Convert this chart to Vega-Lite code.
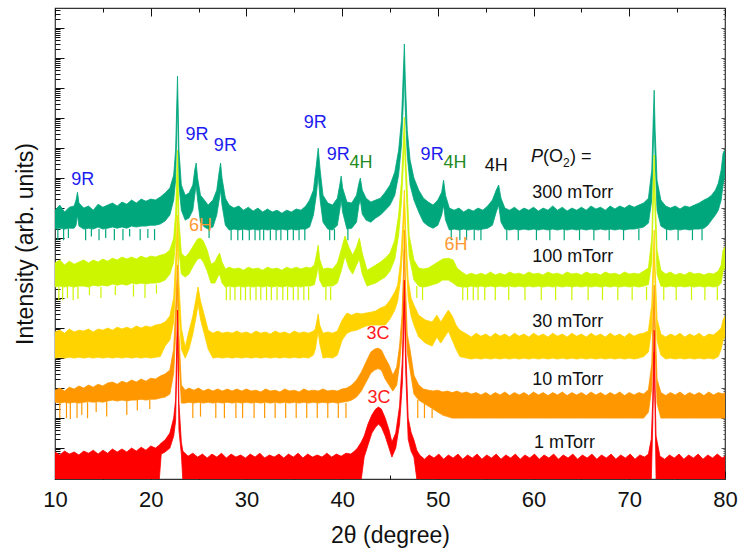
{
"$schema":"https://vega.github.io/schema/vega-lite/v6.json",
"width":670,"height":471,
"autosize":{"type":"none"},
"padding":{"left":55,"top":8,"right":14,"bottom":77},
"background":"white",
"config":{"view":{"stroke":"#333","strokeWidth":1.2},"axis":{"grid":false,"domain":false,"tickColor":"#111","tickWidth":1,"labelFont":"Liberation Sans","titleFont":"Liberation Sans","labelColor":"#111","titleColor":"#111","titleFontWeight":"normal"},"text":{"font":"Liberation Sans"}},
"datasets":{
"s300":[{"x":10,"t":8.93,"b":8.3},{"x":10.5,"t":9.1,"b":8.33},{"x":11,"t":8.87,"b":8.3},{"x":11.5,"t":9.03,"b":8.33},{"x":12,"t":9.07,"b":8.33},{"x":12.2,"t":9.27,"b":8.43},{"x":12.35,"t":9.53,"b":8.77},{"x":12.5,"t":9.17,"b":8.4},{"x":13,"t":9,"b":8.3},{"x":13.5,"t":9.07,"b":8.33},{"x":14,"t":8.93,"b":8.3},{"x":14.5,"t":9.13,"b":8.37},{"x":15,"t":9.03,"b":8.3},{"x":15.5,"t":9.1,"b":8.33},{"x":16,"t":9.17,"b":8.37},{"x":16.5,"t":9.07,"b":8.33},{"x":17,"t":9.2,"b":8.37},{"x":17.5,"t":9.13,"b":8.33},{"x":18,"t":9.27,"b":8.4},{"x":18.5,"t":9.17,"b":8.37},{"x":19,"t":9.3,"b":8.4},{"x":19.5,"t":9.23,"b":8.4},{"x":20,"t":9.3,"b":8.43},{"x":20.5,"t":9.27,"b":8.43},{"x":21,"t":9.37,"b":8.47},{"x":21.5,"t":9.5,"b":8.57},{"x":22,"t":9.67,"b":8.77},{"x":22.4,"t":10.1,"b":9.27},{"x":22.6,"t":10.93,"b":9.93},{"x":22.8,"t":13.4,"b":12.6},{"x":22.95,"t":10.93,"b":9.77},{"x":23.2,"t":9.77,"b":8.93},{"x":23.6,"t":9.43,"b":8.6},{"x":24,"t":9.5,"b":8.67},{"x":24.4,"t":9.77,"b":8.93},{"x":24.6,"t":10.27,"b":9.43},{"x":24.75,"t":10.5,"b":9.77},{"x":24.9,"t":10,"b":9.27},{"x":25.2,"t":9.43,"b":8.53},{"x":25.6,"t":9.27,"b":8.37},{"x":26,"t":9.1,"b":8.3},{"x":26.5,"t":9.27,"b":8.37},{"x":26.9,"t":9.6,"b":8.77},{"x":27.15,"t":10.2,"b":9.27},{"x":27.3,"t":10.5,"b":9.6},{"x":27.45,"t":10,"b":9.1},{"x":27.8,"t":9.33,"b":8.43},{"x":28.2,"t":9.1,"b":8.27},{"x":28.7,"t":9,"b":8.3},{"x":29.2,"t":9.07,"b":8.27},{"x":29.7,"t":8.93,"b":8.3},{"x":30.2,"t":9.03,"b":8.27},{"x":30.7,"t":8.9,"b":8.3},{"x":31.2,"t":9,"b":8.27},{"x":31.7,"t":8.87,"b":8.3},{"x":32.2,"t":8.97,"b":8.27},{"x":32.7,"t":8.87,"b":8.3},{"x":33.2,"t":8.93,"b":8.27},{"x":33.7,"t":8.83,"b":8.3},{"x":34.2,"t":8.93,"b":8.27},{"x":34.7,"t":8.87,"b":8.3},{"x":35.2,"t":8.97,"b":8.27},{"x":35.7,"t":8.93,"b":8.3},{"x":36.2,"t":9.07,"b":8.3},{"x":36.6,"t":9.27,"b":8.37},{"x":37,"t":9.6,"b":8.77},{"x":37.3,"t":10.43,"b":9.43},{"x":37.5,"t":11,"b":10.1},{"x":37.7,"t":10.27,"b":9.27},{"x":38,"t":9.43,"b":8.53},{"x":38.5,"t":9.17,"b":8.3},{"x":39,"t":9.1,"b":8.27},{"x":39.5,"t":9.33,"b":8.43},{"x":39.75,"t":9.77,"b":8.93},{"x":39.9,"t":10.07,"b":9.27},{"x":40.05,"t":9.67,"b":8.87},{"x":40.5,"t":9.2,"b":8.3},{"x":41,"t":9.17,"b":8.33},{"x":41.5,"t":9.43,"b":8.53},{"x":41.75,"t":9.83,"b":9.1},{"x":41.9,"t":10,"b":9.27},{"x":42.1,"t":9.6,"b":8.8},{"x":42.5,"t":9.33,"b":8.6},{"x":43,"t":9.2,"b":8.53},{"x":43.5,"t":9.27,"b":8.67},{"x":44,"t":9.33,"b":8.77},{"x":44.5,"t":9.53,"b":8.93},{"x":45,"t":9.77,"b":9.1},{"x":45.5,"t":10.2,"b":9.43},{"x":45.9,"t":10.93,"b":10.1},{"x":46.2,"t":11.93,"b":11.1},{"x":46.4,"t":13.6,"b":12.6},{"x":46.5,"t":14.47,"b":13.6},{"x":46.6,"t":13.27,"b":12.27},{"x":46.8,"t":11.6,"b":10.77},{"x":47.1,"t":10.6,"b":9.77},{"x":47.5,"t":10,"b":9.27},{"x":48,"t":9.6,"b":8.87},{"x":48.5,"t":9.33,"b":8.53},{"x":49,"t":9.2,"b":8.4},{"x":49.5,"t":9.1,"b":8.33},{"x":50,"t":9.27,"b":8.43},{"x":50.4,"t":9.53,"b":8.77},{"x":50.6,"t":9.93,"b":9.1},{"x":50.8,"t":9.43,"b":8.6},{"x":51.2,"t":9,"b":8.27},{"x":51.7,"t":8.93,"b":8.3},{"x":52.2,"t":9,"b":8.27},{"x":52.7,"t":8.87,"b":8.3},{"x":53.2,"t":8.97,"b":8.27},{"x":53.7,"t":8.9,"b":8.3},{"x":54.2,"t":9,"b":8.27},{"x":54.7,"t":8.93,"b":8.3},{"x":55.2,"t":9.07,"b":8.33},{"x":55.7,"t":9.27,"b":8.43},{"x":56.1,"t":9.6,"b":8.87},{"x":56.35,"t":9.77,"b":9.1},{"x":56.6,"t":9.33,"b":8.53},{"x":57,"t":9,"b":8.3},{"x":57.5,"t":8.93,"b":8.27},{"x":58,"t":9.03,"b":8.3},{"x":58.5,"t":8.9,"b":8.27},{"x":59,"t":9,"b":8.3},{"x":59.5,"t":8.93,"b":8.27},{"x":60,"t":9.03,"b":8.3},{"x":60.5,"t":8.9,"b":8.27},{"x":61,"t":9,"b":8.3},{"x":61.5,"t":8.93,"b":8.27},{"x":62,"t":9.07,"b":8.3},{"x":62.5,"t":8.93,"b":8.27},{"x":63,"t":9.03,"b":8.3},{"x":63.5,"t":8.9,"b":8.27},{"x":64,"t":9,"b":8.3},{"x":64.5,"t":8.93,"b":8.27},{"x":65,"t":9.03,"b":8.3},{"x":65.5,"t":8.93,"b":8.27},{"x":66,"t":9.07,"b":8.3},{"x":66.5,"t":8.97,"b":8.27},{"x":67,"t":9.03,"b":8.3},{"x":67.5,"t":8.93,"b":8.27},{"x":68,"t":9.07,"b":8.3},{"x":68.5,"t":8.97,"b":8.27},{"x":69,"t":9.07,"b":8.3},{"x":69.5,"t":9,"b":8.27},{"x":70,"t":9.1,"b":8.3},{"x":70.5,"t":9.03,"b":8.3},{"x":71,"t":9.1,"b":8.33},{"x":71.5,"t":9.17,"b":8.37},{"x":72,"t":9.33,"b":8.5},{"x":72.35,"t":10.27,"b":9.27},{"x":72.5,"t":11.93,"b":10.93},{"x":72.6,"t":12.93,"b":11.93},{"x":72.7,"t":11.6,"b":10.6},{"x":72.9,"t":9.93,"b":8.93},{"x":73.3,"t":9.27,"b":8.4},{"x":73.8,"t":9.07,"b":8.3},{"x":74.3,"t":9,"b":8.27},{"x":74.8,"t":9.07,"b":8.3},{"x":75.3,"t":8.97,"b":8.27},{"x":75.8,"t":9.07,"b":8.3},{"x":76.3,"t":9.03,"b":8.27},{"x":76.8,"t":9.1,"b":8.3},{"x":77.3,"t":9.17,"b":8.3},{"x":77.8,"t":9.27,"b":8.33},{"x":78.2,"t":9.33,"b":8.43},{"x":78.6,"t":9.43,"b":8.6},{"x":79,"t":9.6,"b":8.77},{"x":79.3,"t":9.83,"b":8.93},{"x":79.6,"t":10.27,"b":9.27},{"x":79.8,"t":10.83,"b":9.77},{"x":80,"t":10.93,"b":10.1}],
"s100":[{"x":10,"t":7.17,"b":6.37},{"x":10.5,"t":7.27,"b":6.4},{"x":11,"t":7.1,"b":6.37},{"x":11.5,"t":7.23,"b":6.4},{"x":12,"t":7.13,"b":6.37},{"x":12.5,"t":7.2,"b":6.4},{"x":13,"t":7.27,"b":6.4},{"x":13.5,"t":7.17,"b":6.37},{"x":14,"t":7.27,"b":6.43},{"x":14.5,"t":7.2,"b":6.4},{"x":15,"t":7.3,"b":6.43},{"x":15.5,"t":7.23,"b":6.4},{"x":16,"t":7.33,"b":6.47},{"x":16.5,"t":7.27,"b":6.43},{"x":17,"t":7.37,"b":6.47},{"x":17.5,"t":7.3,"b":6.43},{"x":18,"t":7.37,"b":6.5},{"x":18.5,"t":7.3,"b":6.47},{"x":19,"t":7.4,"b":6.5},{"x":19.5,"t":7.33,"b":6.47},{"x":20,"t":7.4,"b":6.5},{"x":20.5,"t":7.37,"b":6.5},{"x":21,"t":7.43,"b":6.53},{"x":21.5,"t":7.47,"b":6.6},{"x":22,"t":7.6,"b":6.8},{"x":22.4,"t":8,"b":7.2},{"x":22.6,"t":8.8,"b":7.9},{"x":22.8,"t":10.93,"b":9.6},{"x":22.95,"t":8.6,"b":7.6},{"x":23.2,"t":7.5,"b":6.8},{"x":23.6,"t":7.37,"b":6.7},{"x":24,"t":7.5,"b":6.8},{"x":24.5,"t":7.77,"b":7.1},{"x":24.9,"t":7.97,"b":7.3},{"x":25.2,"t":8,"b":7.33},{"x":25.5,"t":7.9,"b":7.2},{"x":25.9,"t":7.6,"b":6.9},{"x":26.3,"t":7.13,"b":6.5},{"x":26.7,"t":7.2,"b":6.5},{"x":27,"t":7.4,"b":6.7},{"x":27.2,"t":7.5,"b":6.8},{"x":27.45,"t":7.2,"b":6.5},{"x":27.8,"t":6.97,"b":6.37},{"x":28.2,"t":7.03,"b":6.4},{"x":28.7,"t":6.97,"b":6.37},{"x":29.2,"t":7,"b":6.4},{"x":29.7,"t":6.93,"b":6.37},{"x":30.2,"t":7.03,"b":6.4},{"x":30.7,"t":6.97,"b":6.37},{"x":31.2,"t":7,"b":6.4},{"x":31.7,"t":6.93,"b":6.37},{"x":32.2,"t":7.03,"b":6.4},{"x":32.7,"t":6.97,"b":6.37},{"x":33.2,"t":7,"b":6.4},{"x":33.7,"t":6.93,"b":6.37},{"x":34.2,"t":7.03,"b":6.4},{"x":34.7,"t":6.97,"b":6.37},{"x":35.2,"t":7.03,"b":6.4},{"x":35.7,"t":6.97,"b":6.37},{"x":36.2,"t":7.03,"b":6.4},{"x":36.7,"t":7,"b":6.4},{"x":37.1,"t":7.1,"b":6.45},{"x":37.35,"t":7.5,"b":6.8},{"x":37.5,"t":7.77,"b":7.1},{"x":37.65,"t":7.3,"b":6.6},{"x":38,"t":6.97,"b":6.37},{"x":38.5,"t":7,"b":6.4},{"x":39,"t":6.97,"b":6.4},{"x":39.5,"t":7.17,"b":6.5},{"x":39.9,"t":7.6,"b":6.9},{"x":40.3,"t":8.07,"b":7.4},{"x":40.7,"t":7.7,"b":7},{"x":41.1,"t":7.43,"b":6.8},{"x":41.5,"t":7.7,"b":7.1},{"x":41.8,"t":8,"b":7.3},{"x":42.1,"t":7.5,"b":6.8},{"x":42.6,"t":6.93,"b":6.4},{"x":43,"t":7,"b":6.45},{"x":43.5,"t":7.1,"b":6.5},{"x":44,"t":7.2,"b":6.6},{"x":44.5,"t":7.33,"b":6.7},{"x":45,"t":7.5,"b":6.9},{"x":45.5,"t":7.93,"b":7.3},{"x":45.9,"t":8.77,"b":8.1},{"x":46.2,"t":9.9,"b":9.2},{"x":46.4,"t":11.2,"b":10.5},{"x":46.5,"t":12.03,"b":11.3},{"x":46.6,"t":11,"b":10.3},{"x":46.8,"t":9.6,"b":8.8},{"x":47,"t":8.1,"b":7.4},{"x":47.5,"t":7.27,"b":6.6},{"x":48,"t":7,"b":6.4},{"x":48.5,"t":6.97,"b":6.37},{"x":49,"t":7,"b":6.4},{"x":49.5,"t":7.1,"b":6.45},{"x":50,"t":7.2,"b":6.5},{"x":50.5,"t":7.3,"b":6.6},{"x":51.1,"t":7.33,"b":6.6},{"x":51.6,"t":7.27,"b":6.5},{"x":52,"t":7,"b":6.4},{"x":52.5,"t":6.87,"b":6.37},{"x":53,"t":6.77,"b":6.37},{"x":53.5,"t":6.83,"b":6.4},{"x":54,"t":6.77,"b":6.37},{"x":54.5,"t":6.83,"b":6.4},{"x":55,"t":6.77,"b":6.37},{"x":55.5,"t":6.87,"b":6.4},{"x":56,"t":6.77,"b":6.37},{"x":56.5,"t":6.83,"b":6.4},{"x":57,"t":6.77,"b":6.37},{"x":57.5,"t":6.87,"b":6.4},{"x":58,"t":6.8,"b":6.37},{"x":58.5,"t":6.83,"b":6.4},{"x":59,"t":6.77,"b":6.37},{"x":59.5,"t":6.87,"b":6.4},{"x":60,"t":6.8,"b":6.37},{"x":60.5,"t":6.83,"b":6.4},{"x":61,"t":6.77,"b":6.37},{"x":61.5,"t":6.87,"b":6.4},{"x":62,"t":6.8,"b":6.37},{"x":62.5,"t":6.83,"b":6.4},{"x":63,"t":6.77,"b":6.37},{"x":63.5,"t":6.87,"b":6.4},{"x":64,"t":6.8,"b":6.37},{"x":64.5,"t":6.83,"b":6.4},{"x":65,"t":6.77,"b":6.37},{"x":65.5,"t":6.87,"b":6.4},{"x":66,"t":6.8,"b":6.37},{"x":66.5,"t":6.83,"b":6.4},{"x":67,"t":6.77,"b":6.37},{"x":67.5,"t":6.87,"b":6.4},{"x":68,"t":6.8,"b":6.37},{"x":68.5,"t":6.83,"b":6.4},{"x":69,"t":6.77,"b":6.37},{"x":69.5,"t":6.87,"b":6.4},{"x":70,"t":6.8,"b":6.37},{"x":70.5,"t":6.83,"b":6.4},{"x":71,"t":6.8,"b":6.37},{"x":71.5,"t":6.9,"b":6.4},{"x":72,"t":7,"b":6.45},{"x":72.35,"t":8,"b":7.2},{"x":72.5,"t":9.8,"b":9},{"x":72.6,"t":10.77,"b":10},{"x":72.7,"t":9.5,"b":8.7},{"x":72.9,"t":7.6,"b":6.8},{"x":73.3,"t":6.93,"b":6.4},{"x":73.8,"t":6.8,"b":6.37},{"x":74.3,"t":6.87,"b":6.4},{"x":74.8,"t":6.77,"b":6.37},{"x":75.3,"t":6.83,"b":6.4},{"x":75.8,"t":6.77,"b":6.37},{"x":76.3,"t":6.87,"b":6.4},{"x":76.8,"t":6.8,"b":6.37},{"x":77.3,"t":6.83,"b":6.4},{"x":77.8,"t":6.77,"b":6.37},{"x":78.3,"t":6.83,"b":6.4},{"x":78.8,"t":6.8,"b":6.37},{"x":79.3,"t":6.9,"b":6.4},{"x":79.6,"t":7.1,"b":6.5},{"x":79.8,"t":7.6,"b":6.9},{"x":80,"t":7.7,"b":7}],
"s30":[{"x":10,"t":4.87,"b":4},{"x":10.5,"t":4.93,"b":4.03},{"x":11,"t":4.83,"b":4},{"x":11.5,"t":4.97,"b":4.03},{"x":12,"t":4.87,"b":4},{"x":12.5,"t":4.93,"b":4.03},{"x":13,"t":4.9,"b":4},{"x":13.5,"t":4.97,"b":4.03},{"x":14,"t":4.87,"b":4},{"x":14.5,"t":4.97,"b":4.03},{"x":15,"t":4.93,"b":4},{"x":15.5,"t":5,"b":4.03},{"x":16,"t":4.93,"b":4},{"x":16.5,"t":5.03,"b":4.03},{"x":17,"t":4.97,"b":4},{"x":17.5,"t":5.03,"b":4.03},{"x":18,"t":4.97,"b":4},{"x":18.5,"t":5.07,"b":4.03},{"x":19,"t":5,"b":4},{"x":19.5,"t":5.07,"b":4.03},{"x":20,"t":5.03,"b":4},{"x":20.5,"t":5.1,"b":4.03},{"x":21,"t":5.13,"b":4.05},{"x":21.5,"t":5.2,"b":4.4},{"x":22,"t":5.4,"b":4.6},{"x":22.4,"t":6,"b":5.2},{"x":22.6,"t":7.2,"b":6.4},{"x":22.8,"t":8.77,"b":8},{"x":22.95,"t":6.5,"b":5.7},{"x":23.2,"t":5,"b":4.3},{"x":23.6,"t":4.37,"b":4},{"x":24,"t":4.9,"b":4.3},{"x":24.4,"t":5.4,"b":4.8},{"x":24.75,"t":6,"b":5.4},{"x":24.95,"t":6.37,"b":5.8},{"x":25.2,"t":5.9,"b":5.3},{"x":25.6,"t":5.43,"b":4.8},{"x":26,"t":4.93,"b":4.3},{"x":26.5,"t":4.83,"b":4},{"x":27,"t":4.9,"b":4.03},{"x":27.5,"t":4.83,"b":4},{"x":28,"t":4.87,"b":4.03},{"x":28.5,"t":4.83,"b":4},{"x":29,"t":4.9,"b":4.03},{"x":29.5,"t":4.83,"b":4},{"x":30,"t":4.87,"b":4.03},{"x":30.5,"t":4.8,"b":4},{"x":31,"t":4.9,"b":4.03},{"x":31.5,"t":4.83,"b":4},{"x":32,"t":4.87,"b":4.03},{"x":32.5,"t":4.8,"b":4},{"x":33,"t":4.9,"b":4.03},{"x":33.5,"t":4.83,"b":4},{"x":34,"t":4.87,"b":4.03},{"x":34.5,"t":4.8,"b":4},{"x":35,"t":4.9,"b":4.03},{"x":35.5,"t":4.83,"b":4},{"x":36,"t":4.87,"b":4.03},{"x":36.5,"t":4.83,"b":4},{"x":37,"t":4.9,"b":4.1},{"x":37.2,"t":4.97,"b":4.3},{"x":37.4,"t":5.3,"b":4.7},{"x":37.5,"t":5.47,"b":4.9},{"x":37.65,"t":5.1,"b":4.5},{"x":38,"t":4.83,"b":4},{"x":38.5,"t":4.87,"b":4.03},{"x":39,"t":4.83,"b":4},{"x":39.5,"t":4.9,"b":4.1},{"x":40,"t":5.27,"b":4.6},{"x":40.5,"t":5.5,"b":4.83},{"x":41,"t":5.43,"b":4.9},{"x":41.5,"t":5.5,"b":4.93},{"x":42,"t":5.47,"b":5},{"x":42.5,"t":5.5,"b":5.07},{"x":43,"t":5.53,"b":5.1},{"x":43.5,"t":5.57,"b":5.1},{"x":44,"t":5.67,"b":5.1},{"x":44.5,"t":5.73,"b":5.1},{"x":45,"t":5.93,"b":5.3},{"x":45.5,"t":6.2,"b":5.6},{"x":45.8,"t":6.43,"b":5.9},{"x":46.1,"t":7.2,"b":6.6},{"x":46.35,"t":8.5,"b":7.8},{"x":46.5,"t":9.6,"b":8.9},{"x":46.65,"t":8.2,"b":7.5},{"x":46.9,"t":6.6,"b":6},{"x":47.2,"t":6,"b":5.4},{"x":47.5,"t":5.77,"b":5.1},{"x":48,"t":5.43,"b":4.7},{"x":48.7,"t":5.27,"b":4.5},{"x":49.4,"t":5.2,"b":4.4},{"x":49.9,"t":5.43,"b":4.7},{"x":50.3,"t":5.2,"b":4.5},{"x":50.7,"t":5.4,"b":4.7},{"x":51.1,"t":5.6,"b":4.9},{"x":51.5,"t":5.4,"b":4.6},{"x":51.9,"t":5.1,"b":4.3},{"x":52.3,"t":4.93,"b":4.05},{"x":53,"t":4.8,"b":4},{"x":53.5,"t":4.7,"b":3.97},{"x":54,"t":4.83,"b":4},{"x":54.5,"t":4.73,"b":3.97},{"x":55,"t":4.8,"b":4},{"x":55.5,"t":4.7,"b":3.97},{"x":56,"t":4.83,"b":4},{"x":56.5,"t":4.73,"b":3.97},{"x":57,"t":4.8,"b":4},{"x":57.5,"t":4.7,"b":3.97},{"x":58,"t":4.83,"b":4},{"x":58.5,"t":4.73,"b":3.97},{"x":59,"t":4.8,"b":4},{"x":59.5,"t":4.7,"b":3.97},{"x":60,"t":4.83,"b":4},{"x":60.5,"t":4.73,"b":3.97},{"x":61,"t":4.8,"b":4},{"x":61.5,"t":4.7,"b":3.97},{"x":62,"t":4.83,"b":4},{"x":62.5,"t":4.73,"b":3.97},{"x":63,"t":4.8,"b":4},{"x":63.5,"t":4.7,"b":3.97},{"x":64,"t":4.83,"b":4},{"x":64.5,"t":4.73,"b":3.97},{"x":65,"t":4.8,"b":4},{"x":65.5,"t":4.7,"b":3.97},{"x":66,"t":4.83,"b":4},{"x":66.5,"t":4.73,"b":3.97},{"x":67,"t":4.8,"b":4},{"x":67.5,"t":4.7,"b":3.97},{"x":68,"t":4.83,"b":4},{"x":68.5,"t":4.73,"b":3.97},{"x":69,"t":4.8,"b":4},{"x":69.5,"t":4.7,"b":3.97},{"x":70,"t":4.83,"b":4},{"x":70.5,"t":4.73,"b":3.97},{"x":71,"t":4.8,"b":4},{"x":71.5,"t":4.83,"b":4.05},{"x":72,"t":4.9,"b":4.2},{"x":72.35,"t":5.8,"b":5},{"x":72.5,"t":7.3,"b":6.5},{"x":72.6,"t":8.27,"b":7.5},{"x":72.7,"t":7,"b":6.2},{"x":72.9,"t":5.3,"b":4.6},{"x":73.3,"t":4.8,"b":4.1},{"x":73.8,"t":4.7,"b":3.97},{"x":74.3,"t":4.8,"b":4},{"x":74.8,"t":4.73,"b":3.97},{"x":75.3,"t":4.83,"b":4},{"x":75.8,"t":4.7,"b":3.97},{"x":76.3,"t":4.8,"b":4},{"x":76.8,"t":4.73,"b":3.97},{"x":77.3,"t":4.83,"b":4},{"x":77.8,"t":4.7,"b":3.97},{"x":78.3,"t":4.8,"b":4},{"x":78.8,"t":4.77,"b":3.97},{"x":79.3,"t":4.9,"b":4.05},{"x":79.6,"t":5,"b":4.3},{"x":79.8,"t":5.27,"b":4.6},{"x":80,"t":5.4,"b":4.7}],
"s10":[{"x":10,"t":2.93,"b":2.53},{"x":10.5,"t":3,"b":2.5},{"x":11,"t":2.9,"b":2.53},{"x":11.5,"t":3.03,"b":2.5},{"x":12,"t":2.97,"b":2.53},{"x":12.5,"t":3.07,"b":2.5},{"x":13,"t":3,"b":2.53},{"x":13.5,"t":3.1,"b":2.55},{"x":14,"t":3.03,"b":2.53},{"x":14.5,"t":3.13,"b":2.55},{"x":15,"t":3.07,"b":2.53},{"x":15.5,"t":3.17,"b":2.57},{"x":16,"t":3.2,"b":2.6},{"x":16.5,"t":3.13,"b":2.57},{"x":17,"t":3.23,"b":2.6},{"x":17.5,"t":3.17,"b":2.57},{"x":18,"t":3.27,"b":2.6},{"x":18.5,"t":3.2,"b":2.6},{"x":19,"t":3.3,"b":2.63},{"x":19.5,"t":3.23,"b":2.6},{"x":20,"t":3.33,"b":2.63},{"x":20.5,"t":3.3,"b":2.63},{"x":21,"t":3.4,"b":2.67},{"x":21.5,"t":3.47,"b":2.7},{"x":22,"t":3.6,"b":2.8},{"x":22.4,"t":4.3,"b":3.5},{"x":22.6,"t":5.6,"b":4.8},{"x":22.8,"t":7.1,"b":6.3},{"x":22.95,"t":4.8,"b":4},{"x":23.2,"t":3.1,"b":2.5},{"x":23.6,"t":2.93,"b":2.5},{"x":24,"t":3,"b":2.53},{"x":24.5,"t":2.93,"b":2.5},{"x":25,"t":3,"b":2.53},{"x":25.5,"t":2.9,"b":2.5},{"x":26,"t":2.97,"b":2.53},{"x":26.5,"t":2.9,"b":2.5},{"x":27,"t":2.97,"b":2.53},{"x":27.5,"t":2.9,"b":2.5},{"x":28,"t":2.97,"b":2.53},{"x":28.5,"t":2.9,"b":2.5},{"x":29,"t":2.97,"b":2.53},{"x":29.5,"t":2.9,"b":2.5},{"x":30,"t":2.97,"b":2.53},{"x":30.5,"t":2.9,"b":2.5},{"x":31,"t":2.93,"b":2.53},{"x":31.5,"t":2.87,"b":2.5},{"x":32,"t":2.97,"b":2.53},{"x":32.5,"t":2.9,"b":2.5},{"x":33,"t":2.93,"b":2.53},{"x":33.5,"t":2.87,"b":2.5},{"x":34,"t":2.97,"b":2.53},{"x":34.5,"t":2.9,"b":2.5},{"x":35,"t":2.93,"b":2.53},{"x":35.5,"t":2.87,"b":2.5},{"x":36,"t":2.97,"b":2.53},{"x":36.5,"t":2.9,"b":2.5},{"x":37,"t":2.93,"b":2.53},{"x":37.5,"t":2.9,"b":2.5},{"x":38,"t":2.97,"b":2.53},{"x":38.5,"t":2.9,"b":2.5},{"x":39,"t":2.93,"b":2.53},{"x":39.5,"t":2.9,"b":2.5},{"x":40,"t":2.97,"b":2.53},{"x":40.5,"t":3,"b":2.55},{"x":41,"t":3.1,"b":2.6},{"x":41.5,"t":3.27,"b":2.7},{"x":42,"t":3.53,"b":2.9},{"x":42.5,"t":3.87,"b":3.2},{"x":43,"t":4.2,"b":3.5},{"x":43.4,"t":4.3,"b":3.6},{"x":43.75,"t":4.33,"b":3.65},{"x":44.1,"t":4.27,"b":3.6},{"x":44.5,"t":4,"b":3.3},{"x":44.9,"t":3.77,"b":3.1},{"x":45.3,"t":3.43,"b":2.9},{"x":45.7,"t":3.7,"b":3.1},{"x":46,"t":4.4,"b":3.8},{"x":46.25,"t":5.4,"b":4.8},{"x":46.4,"t":6.8,"b":6.1},{"x":46.5,"t":8.27,"b":7.6},{"x":46.6,"t":6.6,"b":5.9},{"x":46.8,"t":4.8,"b":4.2},{"x":47.1,"t":4.27,"b":3.6},{"x":47.5,"t":3.43,"b":2.8},{"x":48,"t":3.1,"b":2.6},{"x":48.5,"t":2.97,"b":2.5},{"x":49,"t":2.93,"b":2.4},{"x":49.5,"t":2.9,"b":2.3},{"x":50,"t":2.93,"b":2.2},{"x":50.5,"t":2.87,"b":2.1},{"x":51,"t":2.9,"b":2.05},{"x":51.5,"t":2.85,"b":2},{"x":52,"t":2.9,"b":2},{"x":52.5,"t":2.83,"b":2},{"x":53,"t":2.87,"b":2},{"x":53.5,"t":2.8,"b":2},{"x":54,"t":2.85,"b":2},{"x":54.5,"t":2.77,"b":2},{"x":55,"t":2.85,"b":2},{"x":55.5,"t":2.75,"b":2},{"x":56,"t":2.85,"b":2},{"x":56.5,"t":2.77,"b":2},{"x":57,"t":2.87,"b":2},{"x":57.5,"t":2.75,"b":2},{"x":58,"t":2.85,"b":2},{"x":58.5,"t":2.77,"b":2},{"x":59,"t":2.85,"b":2},{"x":59.5,"t":2.75,"b":2},{"x":60,"t":2.87,"b":2},{"x":60.5,"t":2.77,"b":2},{"x":61,"t":2.85,"b":2},{"x":61.5,"t":2.75,"b":2},{"x":62,"t":2.85,"b":2},{"x":62.5,"t":2.77,"b":2},{"x":63,"t":2.87,"b":2},{"x":63.5,"t":2.75,"b":2},{"x":64,"t":2.85,"b":2},{"x":64.5,"t":2.77,"b":2},{"x":65,"t":2.85,"b":2},{"x":65.5,"t":2.75,"b":2},{"x":66,"t":2.87,"b":2},{"x":66.5,"t":2.77,"b":2},{"x":67,"t":2.85,"b":2},{"x":67.5,"t":2.75,"b":2},{"x":68,"t":2.85,"b":2},{"x":68.5,"t":2.77,"b":2},{"x":69,"t":2.87,"b":2},{"x":69.5,"t":2.75,"b":2},{"x":70,"t":2.85,"b":2},{"x":70.5,"t":2.77,"b":2},{"x":71,"t":2.85,"b":2},{"x":71.5,"t":2.8,"b":2},{"x":72,"t":2.95,"b":2.2},{"x":72.35,"t":3.8,"b":3},{"x":72.5,"t":5.6,"b":4.8},{"x":72.6,"t":6.43,"b":5.7},{"x":72.7,"t":5.2,"b":4.4},{"x":72.9,"t":3.3,"b":2.5},{"x":73.3,"t":2.85,"b":2},{"x":73.8,"t":2.75,"b":2},{"x":74.3,"t":2.85,"b":2},{"x":74.8,"t":2.77,"b":2},{"x":75.3,"t":2.87,"b":2},{"x":75.8,"t":2.75,"b":2},{"x":76.3,"t":2.85,"b":2},{"x":76.8,"t":2.77,"b":2},{"x":77.3,"t":2.85,"b":2},{"x":77.8,"t":2.75,"b":2},{"x":78.3,"t":2.87,"b":2},{"x":78.8,"t":2.77,"b":2},{"x":79.3,"t":2.85,"b":2},{"x":79.8,"t":2.8,"b":2},{"x":80,"t":2.85,"b":2}],
"s1":[{"x":10,"t":0.87,"b":-0.03},{"x":10.5,"t":0.77,"b":-0.03},{"x":11,"t":0.9,"b":-0.03},{"x":11.5,"t":0.8,"b":-0.03},{"x":12,"t":0.87,"b":-0.03},{"x":12.5,"t":0.77,"b":-0.03},{"x":13,"t":0.9,"b":-0.03},{"x":13.5,"t":0.83,"b":-0.03},{"x":14,"t":0.93,"b":-0.03},{"x":14.5,"t":0.8,"b":-0.03},{"x":15,"t":0.93,"b":-0.03},{"x":15.5,"t":0.83,"b":-0.03},{"x":16,"t":0.97,"b":-0.03},{"x":16.5,"t":0.87,"b":-0.03},{"x":17,"t":0.97,"b":-0.03},{"x":17.5,"t":0.87,"b":-0.03},{"x":18,"t":1,"b":-0.03},{"x":18.5,"t":0.9,"b":-0.03},{"x":19,"t":1.03,"b":-0.03},{"x":19.5,"t":0.93,"b":-0.03},{"x":20,"t":1.07,"b":-0.03},{"x":20.5,"t":1,"b":-0.03},{"x":20.9,"t":1.1,"b":-0.03},{"x":21.1,"t":1.17,"b":0.8},{"x":21.5,"t":1.27,"b":0.87},{"x":22,"t":1.5,"b":1},{"x":22.4,"t":2,"b":1.4},{"x":22.6,"t":2.6,"b":1.9},{"x":22.8,"t":5.6,"b":4.9},{"x":22.95,"t":2.5,"b":1.6},{"x":23.2,"t":1.2,"b":0.8},{"x":23.35,"t":0.9,"b":-0.03},{"x":23.9,"t":0.73,"b":-0.03},{"x":24.4,"t":0.83,"b":-0.03},{"x":24.9,"t":0.7,"b":-0.03},{"x":25.4,"t":0.8,"b":-0.03},{"x":25.9,"t":0.67,"b":-0.03},{"x":26.4,"t":0.8,"b":-0.03},{"x":26.9,"t":0.7,"b":-0.03},{"x":27.4,"t":0.83,"b":-0.03},{"x":27.9,"t":0.67,"b":-0.03},{"x":28.4,"t":0.8,"b":-0.03},{"x":28.9,"t":0.7,"b":-0.03},{"x":29.4,"t":0.77,"b":-0.03},{"x":29.9,"t":0.67,"b":-0.03},{"x":30.4,"t":0.8,"b":-0.03},{"x":30.9,"t":0.7,"b":-0.03},{"x":31.4,"t":0.83,"b":-0.03},{"x":31.9,"t":0.67,"b":-0.03},{"x":32.4,"t":0.77,"b":-0.03},{"x":32.9,"t":0.7,"b":-0.03},{"x":33.4,"t":0.8,"b":-0.03},{"x":33.9,"t":0.67,"b":-0.03},{"x":34.4,"t":0.8,"b":-0.03},{"x":34.9,"t":0.7,"b":-0.03},{"x":35.4,"t":0.83,"b":-0.03},{"x":35.9,"t":0.67,"b":-0.03},{"x":36.4,"t":0.8,"b":-0.03},{"x":36.9,"t":0.7,"b":-0.03},{"x":37.4,"t":0.77,"b":-0.03},{"x":37.9,"t":0.7,"b":-0.03},{"x":38.4,"t":0.83,"b":-0.03},{"x":38.9,"t":0.7,"b":-0.03},{"x":39.4,"t":0.8,"b":-0.03},{"x":39.9,"t":0.73,"b":-0.03},{"x":40.4,"t":0.83,"b":-0.03},{"x":40.9,"t":0.8,"b":-0.03},{"x":41.3,"t":0.9,"b":-0.03},{"x":41.6,"t":1,"b":-0.03},{"x":42,"t":1.2,"b":-0.03},{"x":42.3,"t":1.4,"b":0.7},{"x":42.7,"t":1.8,"b":1.1},{"x":43.1,"t":2.1,"b":1.5},{"x":43.5,"t":2.3,"b":1.7},{"x":43.8,"t":2.37,"b":1.8},{"x":44.1,"t":2.3,"b":1.7},{"x":44.5,"t":2,"b":1.4},{"x":44.9,"t":1.6,"b":1},{"x":45.2,"t":1.2,"b":0.7},{"x":45.6,"t":1.5,"b":1},{"x":46,"t":2.4,"b":1.8},{"x":46.3,"t":4,"b":3.2},{"x":46.5,"t":6.6,"b":5.9},{"x":46.65,"t":4.3,"b":3.5},{"x":46.9,"t":2,"b":1.3},{"x":47.2,"t":1.53,"b":0.9},{"x":47.5,"t":1.27,"b":0.7},{"x":47.8,"t":0.93,"b":-0.03},{"x":48.1,"t":0.77,"b":-0.03},{"x":48.6,"t":0.63,"b":-0.03},{"x":49.1,"t":0.77,"b":-0.03},{"x":49.6,"t":0.67,"b":-0.03},{"x":50.1,"t":0.8,"b":-0.03},{"x":50.6,"t":0.63,"b":-0.03},{"x":51.1,"t":0.77,"b":-0.03},{"x":51.6,"t":0.67,"b":-0.03},{"x":52.1,"t":0.8,"b":-0.03},{"x":52.6,"t":0.63,"b":-0.03},{"x":53.1,"t":0.77,"b":-0.03},{"x":53.6,"t":0.67,"b":-0.03},{"x":54.1,"t":0.8,"b":-0.03},{"x":54.6,"t":0.63,"b":-0.03},{"x":55.1,"t":0.77,"b":-0.03},{"x":55.6,"t":0.67,"b":-0.03},{"x":56.1,"t":0.8,"b":-0.03},{"x":56.6,"t":0.63,"b":-0.03},{"x":57.1,"t":0.77,"b":-0.03},{"x":57.6,"t":0.67,"b":-0.03},{"x":58.1,"t":0.8,"b":-0.03},{"x":58.6,"t":0.63,"b":-0.03},{"x":59.1,"t":0.77,"b":-0.03},{"x":59.6,"t":0.67,"b":-0.03},{"x":60.1,"t":0.8,"b":-0.03},{"x":60.6,"t":0.63,"b":-0.03},{"x":61.1,"t":0.77,"b":-0.03},{"x":61.6,"t":0.67,"b":-0.03},{"x":62.1,"t":0.8,"b":-0.03},{"x":62.6,"t":0.63,"b":-0.03},{"x":63.1,"t":0.77,"b":-0.03},{"x":63.6,"t":0.67,"b":-0.03},{"x":64.1,"t":0.8,"b":-0.03},{"x":64.6,"t":0.63,"b":-0.03},{"x":65.1,"t":0.77,"b":-0.03},{"x":65.6,"t":0.67,"b":-0.03},{"x":66.1,"t":0.8,"b":-0.03},{"x":66.6,"t":0.63,"b":-0.03},{"x":67.1,"t":0.77,"b":-0.03},{"x":67.6,"t":0.67,"b":-0.03},{"x":68.1,"t":0.8,"b":-0.03},{"x":68.6,"t":0.63,"b":-0.03},{"x":69.1,"t":0.77,"b":-0.03},{"x":69.6,"t":0.67,"b":-0.03},{"x":70.1,"t":0.8,"b":-0.03},{"x":70.6,"t":0.63,"b":-0.03},{"x":71.1,"t":0.77,"b":-0.03},{"x":71.6,"t":0.7,"b":-0.03},{"x":72,"t":0.8,"b":-0.03},{"x":72.3,"t":1.3,"b":-0.03},{"x":72.45,"t":2.6,"b":1.8},{"x":72.6,"t":4.93,"b":4.2},{"x":72.72,"t":2.5,"b":1.7},{"x":72.8,"t":1.4,"b":-0.03},{"x":73.2,"t":0.73,"b":-0.03},{"x":73.7,"t":0.63,"b":-0.03},{"x":74.2,"t":0.77,"b":-0.03},{"x":74.7,"t":0.67,"b":-0.03},{"x":75.2,"t":0.8,"b":-0.03},{"x":75.7,"t":0.63,"b":-0.03},{"x":76.2,"t":0.77,"b":-0.03},{"x":76.7,"t":0.67,"b":-0.03},{"x":77.2,"t":0.8,"b":-0.03},{"x":77.7,"t":0.63,"b":-0.03},{"x":78.2,"t":0.77,"b":-0.03},{"x":78.7,"t":0.67,"b":-0.03},{"x":79.2,"t":0.8,"b":-0.03},{"x":79.7,"t":0.67,"b":-0.03},{"x":80,"t":0.73,"b":-0.03}],
"sp":[{"s":"300","x":10.3,"y":8.3,"y2":7.93},{"s":"300","x":10.9,"y":8.3,"y2":7.93},{"s":"300","x":11.4,"y":8.3,"y2":8.0},{"s":"300","x":13.2,"y":8.3,"y2":7.93},{"s":"300","x":13.8,"y":8.3,"y2":8.05},{"s":"300","x":14.6,"y":8.3,"y2":7.93},{"s":"300","x":15.3,"y":8.3,"y2":8.0},{"s":"300","x":16.2,"y":8.3,"y2":7.93},{"s":"300","x":17.1,"y":8.3,"y2":7.93},{"s":"300","x":17.8,"y":8.3,"y2":8.05},{"s":"300","x":18.9,"y":8.3,"y2":7.93},{"s":"300","x":19.7,"y":8.3,"y2":8.0},{"s":"300","x":20.4,"y":8.3,"y2":7.93},{"s":"300","x":26.1,"y":8.3,"y2":8.0},{"s":"300","x":28.4,"y":8.3,"y2":7.93},{"s":"300","x":29.1,"y":8.3,"y2":7.93},{"s":"300","x":29.6,"y":8.3,"y2":7.93},{"s":"300","x":30.3,"y":8.3,"y2":7.93},{"s":"300","x":30.9,"y":8.3,"y2":7.93},{"s":"300","x":31.4,"y":8.3,"y2":7.93},{"s":"300","x":31.8,"y":8.3,"y2":7.93},{"s":"300","x":32.5,"y":8.3,"y2":7.93},{"s":"300","x":33.1,"y":8.3,"y2":7.93},{"s":"300","x":33.6,"y":8.3,"y2":7.93},{"s":"300","x":34.3,"y":8.3,"y2":7.93},{"s":"300","x":34.9,"y":8.3,"y2":7.93},{"s":"300","x":35.5,"y":8.3,"y2":7.93},{"s":"300","x":36.1,"y":8.3,"y2":7.93},{"s":"300","x":38.7,"y":8.3,"y2":7.93},{"s":"300","x":39.2,"y":8.3,"y2":7.93},{"s":"300","x":40.6,"y":8.3,"y2":7.93},{"s":"300","x":51.4,"y":8.3,"y2":7.93},{"s":"300","x":52.3,"y":8.3,"y2":7.93},{"s":"300","x":53,"y":8.3,"y2":7.93},{"s":"300","x":53.8,"y":8.3,"y2":7.93},{"s":"300","x":54.5,"y":8.3,"y2":7.93},{"s":"300","x":57.2,"y":8.3,"y2":7.93},{"s":"300","x":58.4,"y":8.3,"y2":7.93},{"s":"300","x":60.3,"y":8.3,"y2":7.93},{"s":"300","x":61.7,"y":8.3,"y2":7.93},{"s":"300","x":63.2,"y":8.3,"y2":7.93},{"s":"300","x":64.8,"y":8.3,"y2":7.93},{"s":"300","x":66.3,"y":8.3,"y2":7.93},{"s":"300","x":67.9,"y":8.3,"y2":7.93},{"s":"300","x":69.4,"y":8.3,"y2":7.93},{"s":"300","x":71,"y":8.3,"y2":7.93},{"s":"300","x":73.9,"y":8.3,"y2":7.93},{"s":"300","x":75.1,"y":8.3,"y2":7.93},{"s":"300","x":76.6,"y":8.3,"y2":7.93},{"s":"300","x":77.6,"y":8.3,"y2":7.93},
{"s":"100","x":10.4,"y":6.37,"y2":5.93},{"s":"100","x":10.8,"y":6.37,"y2":5.93},{"s":"100","x":11.3,"y":6.37,"y2":6.0},{"s":"100","x":11.9,"y":6.37,"y2":5.93},{"s":"100","x":12.4,"y":6.37,"y2":5.97},{"s":"100","x":13.6,"y":6.37,"y2":6.1},{"s":"100","x":14.8,"y":6.37,"y2":6.0},{"s":"100","x":16.3,"y":6.4,"y2":6.1},{"s":"100","x":18.2,"y":6.45,"y2":6.05},{"s":"100","x":19.4,"y":6.45,"y2":6.0},{"s":"100","x":20.6,"y":6.45,"y2":6.15},{"s":"100","x":27.9,"y":6.37,"y2":5.93},{"s":"100","x":28.3,"y":6.37,"y2":5.93},{"s":"100","x":28.8,"y":6.37,"y2":5.93},{"s":"100","x":29.4,"y":6.37,"y2":5.93},{"s":"100","x":29.9,"y":6.37,"y2":5.93},{"s":"100","x":30.4,"y":6.37,"y2":5.93},{"s":"100","x":31,"y":6.37,"y2":5.93},{"s":"100","x":31.5,"y":6.37,"y2":5.93},{"s":"100","x":32.1,"y":6.37,"y2":5.93},{"s":"100","x":32.6,"y":6.37,"y2":5.93},{"s":"100","x":33.2,"y":6.37,"y2":5.93},{"s":"100","x":33.8,"y":6.37,"y2":5.93},{"s":"100","x":34.3,"y":6.37,"y2":5.93},{"s":"100","x":34.9,"y":6.37,"y2":5.93},{"s":"100","x":35.4,"y":6.37,"y2":5.93},{"s":"100","x":36,"y":6.37,"y2":5.93},{"s":"100","x":36.5,"y":6.37,"y2":5.93},{"s":"100","x":38.3,"y":6.37,"y2":5.93},{"s":"100","x":38.8,"y":6.37,"y2":5.93},{"s":"100","x":47.8,"y":6.4,"y2":6.0},{"s":"100","x":48.4,"y":6.37,"y2":5.93},{"s":"100","x":52.6,"y":6.37,"y2":5.93},{"s":"100","x":53.1,"y":6.37,"y2":5.93},{"s":"100","x":53.7,"y":6.37,"y2":5.93},{"s":"100","x":54.2,"y":6.37,"y2":5.93},{"s":"100","x":54.9,"y":6.37,"y2":5.93},{"s":"100","x":56,"y":6.37,"y2":5.93},{"s":"100","x":57.4,"y":6.37,"y2":5.93},{"s":"100","x":59.1,"y":6.37,"y2":5.93},{"s":"100","x":60.8,"y":6.37,"y2":5.93},{"s":"100","x":62.3,"y":6.37,"y2":5.93},{"s":"100","x":64,"y":6.37,"y2":5.93},{"s":"100","x":65.7,"y":6.37,"y2":5.93},{"s":"100","x":67.2,"y":6.37,"y2":5.93},{"s":"100","x":68.8,"y":6.37,"y2":5.93},{"s":"100","x":70.3,"y":6.37,"y2":5.93},{"s":"100","x":71.8,"y":6.37,"y2":5.93},{"s":"100","x":73.6,"y":6.37,"y2":5.93},{"s":"100","x":74.9,"y":6.37,"y2":5.93},{"s":"100","x":76.5,"y":6.37,"y2":5.93},{"s":"100","x":77.9,"y":6.37,"y2":5.93},{"s":"100","x":79.2,"y":6.37,"y2":5.93},
{"s":"10","x":10.5,"y":2.53,"y2":2.0},{"s":"10","x":11.2,"y":2.53,"y2":2.0},{"s":"10","x":11.6,"y":2.53,"y2":1.97},{"s":"10","x":12.3,"y":2.53,"y2":2.0},{"s":"10","x":12.8,"y":2.53,"y2":2.1},{"s":"10","x":13.4,"y":2.53,"y2":2.0},{"s":"10","x":14.3,"y":2.55,"y2":2.2},{"s":"10","x":15.4,"y":2.55,"y2":2.05},{"s":"10","x":17.5,"y":2.57,"y2":2.1},{"s":"10","x":18.6,"y":2.6,"y2":2.25},{"s":"10","x":19.9,"y":2.6,"y2":2.3},{"s":"10","x":24.4,"y":2.5,"y2":2.0},{"s":"10","x":25.2,"y":2.5,"y2":2.05},{"s":"10","x":26.8,"y":2.5,"y2":2.0},{"s":"10","x":27.7,"y":2.5,"y2":2.0},{"s":"10","x":28.9,"y":2.5,"y2":2.0},{"s":"10","x":29.6,"y":2.5,"y2":2.0},{"s":"10","x":30.8,"y":2.5,"y2":2.0},{"s":"10","x":31.9,"y":2.5,"y2":2.0},{"s":"10","x":33,"y":2.5,"y2":2.0},{"s":"10","x":34.1,"y":2.5,"y2":2.0},{"s":"10","x":35.2,"y":2.5,"y2":2.0},{"s":"10","x":36.3,"y":2.5,"y2":2.0},{"s":"10","x":37.4,"y":2.5,"y2":2.0},{"s":"10","x":38.5,"y":2.5,"y2":2.0},{"s":"10","x":39.6,"y":2.5,"y2":2.0},{"s":"10","x":40.4,"y":2.5,"y2":2.0},{"s":"10","x":47.9,"y":2.6,"y2":2.0},{"s":"10","x":48.6,"y":2.5,"y2":2.0},{"s":"10","x":49.4,"y":2.3,"y2":2.0}],
"ann":[{"x":12.9,"y":9.93,"l":"9R","g":"9R"},{"x":24.84,"y":11.43,"l":"9R","g":"9R"},{"x":27.8,"y":11.07,"l":"9R","g":"9R"},{"x":37.2,"y":11.83,"l":"9R","g":"9R"},{"x":39.6,"y":10.78,"l":"9R","g":"9R"},{"x":41.97,"y":10.5,"l":"4H","g":"4H"},{"x":49.4,"y":10.78,"l":"9R","g":"9R"},{"x":51.8,"y":10.5,"l":"4H","g":"4H"},{"x":56.1,"y":10.4,"l":"4H","g":"4H-b"},{"x":25.2,"y":8.4,"l":"6H","g":"6H"},{"x":51.9,"y":7.77,"l":"6H","g":"6H"},{"x":43.75,"y":4.8,"l":"3C","g":"3C"},{"x":43.85,"y":2.67,"l":"3C","g":"3C"}],
"lab":[{"x":59.85,"y":9.5,"l":"300 mTorr"},{"x":59.85,"y":7.37,"l":"100 mTorr"},{"x":59.85,"y":5.2,"l":"30 mTorr"},{"x":59.85,"y":3.27,"l":"10 mTorr"},{"x":60.05,"y":1.17,"l":"1 mTorr"}],
"po":[{"x":59.73,"y":10.7}]
},
"layer":[
{"data":{"name":"s300"},"mark":{"type":"area","color":"#00a77d","stroke":"#00a77d","strokeWidth":0.8,"clip":true},
 "encoding":{
  "x":{"field":"x","type":"quantitative","scale":{"domain":[10,80],"nice":false,"zero":false},"axis":{"orient":"bottom","values":[10,20,30,40,50,60,70,80],"tickSize":-8,"labelFontSize":22,"labelPadding":18,"labelFlush":false,"title":"2θ (degree)","titleFontSize":23,"titlePadding":14}},
  "y":{"field":"t","type":"quantitative","scale":{"domain":[-0.03,15.67],"nice":false,"zero":false},"axis":{"orient":"left","values":[0,1,2,3,4,5,6,7,8,9,10,11,12,13,14,15],"tickSize":-9,"labels":false,"title":"Intensity (arb. units)","titleFontSize":23,"titlePadding":17}},
  "y2":{"field":"b"}}},
{"data":{"name":"s100"},"mark":{"type":"area","color":"#ccf500","stroke":"#ccf500","strokeWidth":0.8,"clip":true},
 "encoding":{
  "x":{"field":"x","type":"quantitative","scale":{"domain":[10,80],"nice":false,"zero":false},"axis":{"orient":"bottom","values":[15,25,35,45,55,65,75],"tickSize":-4,"labels":false,"title":null}},
  "y":{"field":"t","type":"quantitative","scale":{"domain":[-0.03,15.67],"nice":false,"zero":false},"axis":{"orient":"left","values":[0.301,0.477,0.602,0.699,0.778,0.845,0.903,0.954,1.301,1.477,1.602,1.699,1.778,1.845,1.903,1.954,2.301,2.477,2.602,2.699,2.778,2.845,2.903,2.954,3.301,3.477,3.602,3.699,3.778,3.845,3.903,3.954,4.301,4.477,4.602,4.699,4.778,4.845,4.903,4.954,5.301,5.477,5.602,5.699,5.778,5.845,5.903,5.954,6.301,6.477,6.602,6.699,6.778,6.845,6.903,6.954,7.301,7.477,7.602,7.699,7.778,7.845,7.903,7.954,8.301,8.477,8.602,8.699,8.778,8.845,8.903,8.954,9.301,9.477,9.602,9.699,9.778,9.845,9.903,9.954,10.301,10.477,10.602,10.699,10.778,10.845,10.903,10.954,11.301,11.477,11.602,11.699,11.778,11.845,11.903,11.954,12.301,12.477,12.602,12.699,12.778,12.845,12.903,12.954,13.301,13.477,13.602,13.699,13.778,13.845,13.903,13.954,14.301,14.477,14.602,14.699,14.778,14.845,14.903,14.954,15.301,15.477,15.602],"tickSize":-5,"labels":false,"title":null}},
  "y2":{"field":"b"}}},
{"data":{"name":"s30"},"mark":{"type":"area","color":"#ffd300","stroke":"#ffd300","strokeWidth":0.8,"clip":true},
 "encoding":{
  "x":{"field":"x","type":"quantitative","scale":{"domain":[10,80],"nice":false,"zero":false},"axis":{"orient":"top","values":[10,20,30,40,50,60,70,80],"tickSize":-8,"labels":false,"title":null}},
  "y":{"field":"t","type":"quantitative","scale":{"domain":[-0.03,15.67],"nice":false,"zero":false},"axis":{"orient":"right","values":[0.301,0.477,0.602,0.699,0.778,0.845,0.903,0.954,1.301,1.477,1.602,1.699,1.778,1.845,1.903,1.954,2.301,2.477,2.602,2.699,2.778,2.845,2.903,2.954,3.301,3.477,3.602,3.699,3.778,3.845,3.903,3.954,4.301,4.477,4.602,4.699,4.778,4.845,4.903,4.954,5.301,5.477,5.602,5.699,5.778,5.845,5.903,5.954,6.301,6.477,6.602,6.699,6.778,6.845,6.903,6.954,7.301,7.477,7.602,7.699,7.778,7.845,7.903,7.954,8.301,8.477,8.602,8.699,8.778,8.845,8.903,8.954,9.301,9.477,9.602,9.699,9.778,9.845,9.903,9.954,10.301,10.477,10.602,10.699,10.778,10.845,10.903,10.954,11.301,11.477,11.602,11.699,11.778,11.845,11.903,11.954,12.301,12.477,12.602,12.699,12.778,12.845,12.903,12.954,13.301,13.477,13.602,13.699,13.778,13.845,13.903,13.954,14.301,14.477,14.602,14.699,14.778,14.845,14.903,14.954,15.301,15.477,15.602],"tickSize":-2,"tickColor":"#555","labels":false,"title":null}},
  "y2":{"field":"b"}}},
{"data":{"name":"s10"},"mark":{"type":"area","color":"#ff9800","stroke":"#ff9800","strokeWidth":0.8,"clip":true},
 "encoding":{
  "x":{"field":"x","type":"quantitative","scale":{"domain":[10,80],"nice":false,"zero":false},"axis":{"orient":"top","values":[15,25,35,45,55,65,75],"tickSize":-4,"labels":false,"title":null}},
  "y":{"field":"t","type":"quantitative","scale":{"domain":[-0.03,15.67],"nice":false,"zero":false},"axis":{"orient":"right","values":[0,1,2,3,4,5,6,7,8,9,10,11,12,13,14,15],"tickSize":-4,"tickColor":"#555","labels":false,"title":null}},
  "y2":{"field":"b"}}},
{"data":{"name":"s1"},"mark":{"type":"area","color":"#ff0000","stroke":"#ff0000","strokeWidth":0.8,"clip":true},
 "encoding":{
  "x":{"field":"x","type":"quantitative","scale":{"domain":[10,80],"nice":false,"zero":false},"axis":null},
  "y":{"field":"t","type":"quantitative","scale":{"domain":[-0.03,15.67],"nice":false,"zero":false},"axis":null},
  "y2":{"field":"b"}}},
{"data":{"name":"sp"},"mark":{"type":"rule","strokeWidth":1.2,"clip":true},
 "encoding":{
  "x":{"field":"x","type":"quantitative","axis":null},
  "y":{"field":"y","type":"quantitative","axis":null},
  "y2":{"field":"y2"},
  "color":{"field":"s","type":"nominal","scale":{"domain":["300","100","10"],"range":["#00a77d","#ccf500","#ff9800"]},"legend":null}}},
{"data":{"name":"ann"},"mark":{"type":"text","fontSize":18,"align":"center","baseline":"middle"},
 "encoding":{
  "x":{"field":"x","type":"quantitative","axis":null},
  "y":{"field":"y","type":"quantitative","axis":null},
  "text":{"field":"l"},
  "color":{"field":"g","type":"nominal","scale":{"domain":["9R","4H","4H-b","6H","3C"],"range":["#1c1cf0","#238b23","#111111","#ff9933","#ff1a1a"]},"legend":null}}},
{"data":{"name":"lab"},"mark":{"type":"text","fontSize":18,"align":"left","baseline":"middle","color":"#111"},
 "encoding":{
  "x":{"field":"x","type":"quantitative","axis":null},
  "y":{"field":"y","type":"quantitative","axis":null},
  "text":{"field":"l"}}},
{"data":{"name":"po"},"mark":{"type":"text","text":"P","fontSize":18,"fontStyle":"italic","align":"left","baseline":"middle","color":"#111"},
 "encoding":{"x":{"field":"x","type":"quantitative","axis":null},"y":{"field":"y","type":"quantitative","axis":null}}},
{"data":{"name":"po"},"mark":{"type":"text","text":"(O","dx":12,"fontSize":18,"align":"left","baseline":"middle","color":"#111"},
 "encoding":{"x":{"field":"x","type":"quantitative","axis":null},"y":{"field":"y","type":"quantitative","axis":null}}},
{"data":{"name":"po"},"mark":{"type":"text","text":"2","dx":32,"dy":6,"fontSize":12,"align":"left","baseline":"middle","color":"#111"},
 "encoding":{"x":{"field":"x","type":"quantitative","axis":null},"y":{"field":"y","type":"quantitative","axis":null}}},
{"data":{"name":"po"},"mark":{"type":"text","text":") =","dx":39,"fontSize":18,"align":"left","baseline":"middle","color":"#111"},
 "encoding":{"x":{"field":"x","type":"quantitative","axis":null},"y":{"field":"y","type":"quantitative","axis":null}}}
],
"resolve":{"axis":{"x":"independent","y":"independent"},"scale":{"color":"independent"}}
}
